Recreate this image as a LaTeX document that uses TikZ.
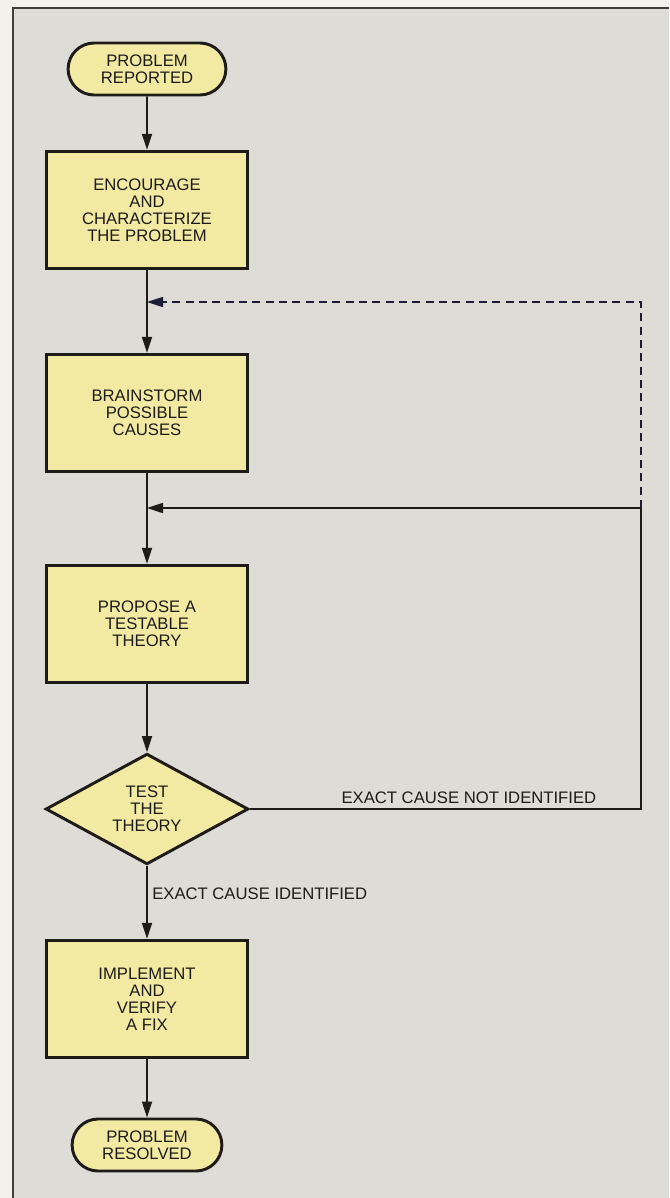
\documentclass[tikz,border=0pt]{standalone}
\usepackage{fontspec}
\setmainfont{Liberation Sans}
\usetikzlibrary{arrows.meta,positioning,shapes.geometric,shapes.misc}
\definecolor{paper}{RGB}{243,241,236}
\definecolor{panel}{RGB}{222,220,214}
\definecolor{pad}{RGB}{242,234,163}
\definecolor{ink}{RGB}{30,27,24}
\definecolor{navy}{RGB}{28,28,52}
\newcommand{\chartfont}{\fontsize{12.5}{12.8}\selectfont}
\tikzset{
  >={Triangle[length=12pt,width=7.5pt]},
  stepbox/.style={draw=ink,fill=pad,line width=2.2pt,minimum width=151pt,
    minimum height=88pt,align=center,font=\chartfont,text=ink},
  term/.style={rounded rectangle,draw=ink,fill=pad,line width=2.2pt,
    minimum width=#1,minimum height=39pt,align=center,font=\chartfont,text=ink},
  term/.default=125pt,
  decide/.style={diamond,aspect=1.8,draw=ink,fill=pad,line width=2.2pt,
    minimum width=152pt,minimum height=83pt,inner sep=1pt,align=center,
    font=\chartfont,text=ink},
  flow/.style={->,line width=1.25pt,draw=#1},
  flow/.default=ink,
  tag/.style={font=\chartfont,text=ink},
}

\begin{document}
\begin{tikzpicture}[x=0.75pt,y=-0.75pt]
  \useasboundingbox (0,0) rectangle (669,1198);
  \fill[paper] (0,0) rectangle (669,1198);
  \fill[panel] (13,8) rectangle (669,1198);
  \draw[ink!85,line width=0.8pt] (13,1198) -- (13,8) -- (669,8);
  % main column
  \node[term] (start) at (147,69) {PROBLEM\\REPORTED};
  \node[stepbox] (char) at (147,210) {ENCOURAGE\\AND\\CHARACTERIZE\\THE PROBLEM};
  \node[stepbox] (brain) at (147,413) {BRAINSTORM\\POSSIBLE\\CAUSES};
  \node[stepbox] (theory) at (147,624) {PROPOSE A\\TESTABLE\\THEORY};
  \node[decide] (test) at (147,809) {TEST\\THE\\THEORY};
  \node[stepbox] (fix) at (147,999) {IMPLEMENT\\AND\\VERIFY\\A FIX};
  \node[term=119pt] (done) at (147,1145) {PROBLEM\\RESOLVED};
  % loop points
  \coordinate (j1) at (147,302);
  \coordinate (j2) at (147,508);
  \coordinate (r1) at (641,302);
  \coordinate (r2) at (641,508);
  \coordinate (r3) at (641,809);
  \draw[flow] (start) -- (char);
  \draw[flow] (char) -- (brain);
  \draw[flow] (brain) -- (theory);
  \draw[flow] (theory) -- (test);
  \draw[flow] (test) -- node[tag,right,pos=0.38] {EXACT CAUSE IDENTIFIED} (fix);
  \draw[flow] (fix) -- (done);
  \draw[flow] (test.east) -- node[tag,above,pos=0.56] {EXACT CAUSE NOT IDENTIFIED} (r3) -- (r2) -- (j2);
  \draw[flow=navy,dash pattern=on 6pt off 4pt] (r2) -- (r1) -- (j1);
\end{tikzpicture}
\end{document}
